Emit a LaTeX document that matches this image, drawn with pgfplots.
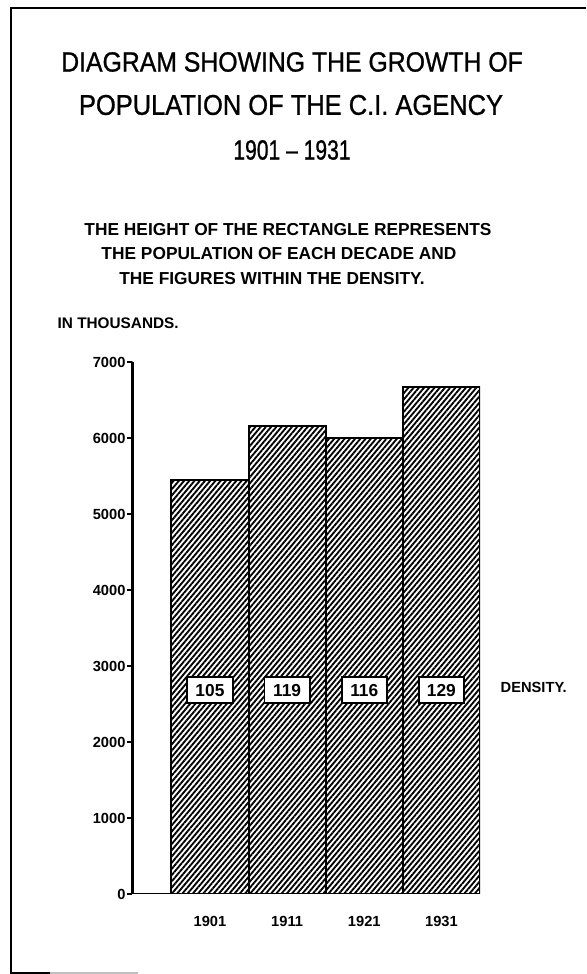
\documentclass[border=0pt]{standalone}
\usepackage{graphicx}
\usepackage{pgfplots}
\pgfplotsset{compat=1.18}
\usepackage{fontspec}
\setmainfont{Liberation Sans}
\newfontfamily\titlefont[FakeBold=1.0, Ligatures=TeX]{Liberation Sans}
\usetikzlibrary{patterns.meta}
\begin{document}
\begin{tikzpicture}[x=0.75pt,y=0.75pt]
\useasboundingbox (0,0) rectangle (586,974);
% frame
\draw[line width=2.2pt] (11,0) -- (11,966) -- (586,966);
\draw[line width=1.5pt] (11,1) -- (50,1);
\draw[line width=1pt, gray!50] (50,1) -- (138,1);
% titles
\node[font=\titlefont\fontsize{18.6}{20}\selectfont] at (292,912) {\scalebox{1}[1.12]{DIAGRAM SHOWING THE GROWTH OF}};
\node[font=\titlefont\fontsize{19.1}{20}\selectfont] at (291,869) {\scalebox{1}[1.12]{POPULATION OF THE C.I. AGENCY}};
\node[font=\titlefont\fontsize{18.6}{20}\selectfont] at (292,824) {\scalebox{0.85}[1.12]{1901 \textendash\ 1931}};
\node[font=\bfseries\fontsize{13}{14}\selectfont] at (288,744) {THE HEIGHT OF THE RECTANGLE REPRESENTS};
\node[font=\bfseries\fontsize{13}{14}\selectfont] at (279,720) {THE POPULATION OF EACH DECADE AND};
\node[font=\bfseries\fontsize{13}{14}\selectfont] at (272,695) {THE FIGURES WITHIN THE DENSITY.};
\node[anchor=west, font=\bfseries\fontsize{11.5}{12}\selectfont] at (53,651) {IN THOUSANDS.};
\begin{axis}[
  at={(99.3pt,60pt)}, anchor=south west,
  scale only axis, width=260.7pt, height=399pt,
  xmin=-1.005, xmax=3.5, ymin=0, ymax=7000,
  axis lines=left,
  axis line style={-},
  x axis line style={draw=none},
  y axis line style={line width=1.8pt},
  xtick={0,1,2,3}, xticklabels={1901,1911,1921,1931},
  xtick style={draw=none},
  ytick={0,1000,...,7000},
  ytick style={line width=1.2pt, black},
  tick align=outside, major tick length=4pt,
  yticklabel style={font=\bfseries\fontsize{11}{12}\selectfont, inner sep=1pt},
  xticklabel style={font=\bfseries\fontsize{11}{12}\selectfont, yshift=-9pt},
  /pgf/number format/.cd, 1000 sep={}, assume math mode=true,
]
\addplot[ybar, bar width=1, draw=black, line width=1.5pt,
  pattern={Lines[angle=50, distance=3pt, line width=1.4pt]}, pattern color=black]
  coordinates {(0,5450) (1,6160) (2,6000) (3,6670)};
\addplot[only marks, mark=none, nodes near coords, point meta=explicit symbolic,
  every node near coord/.append style={anchor=center, draw=black, fill=white, line width=1.4pt,
    font=\bfseries\fontsize{13}{14}\selectfont, minimum width=34pt, minimum height=19.5pt, inner sep=1pt}]
  table[meta=d] {
x y d
0 2680 105
1 2680 119
2 2680 116
3 2680 129
};
\draw[line width=1.6pt] (axis cs:-1.005,0) -- ++(6pt,0);
\draw[line width=1.4pt] (axis cs:-1.005,7000) -- ++(-3pt,1.5pt);
\end{axis}
\node[anchor=west, font=\bfseries\fontsize{11}{12}\selectfont] at (496,287) {DENSITY.};
\end{tikzpicture}
\end{document}
